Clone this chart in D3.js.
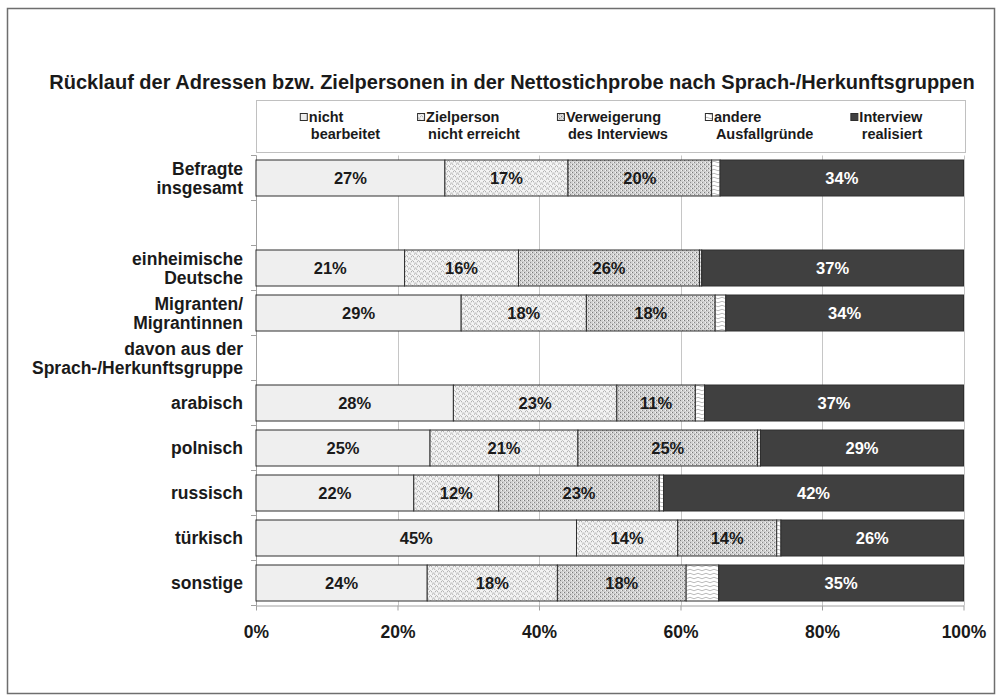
<!DOCTYPE html>
<html>
<head>
<meta charset="utf-8">
<script src="https://cdn.jsdelivr.net/npm/d3@7"></script>
<style>
  body { margin: 0; background: #fff; }
  text { font-family: "Liberation Sans", Arial, sans-serif; font-weight: bold; fill: #1a1a1a; }
</style>
</head>
<body>
<svg id="chart" width="1002" height="700"></svg>
<script>
'use strict';

// Row labels (empty row = spacer in the original chart)
var categories = [
  ['Befragte', 'insgesamt'],
  [],
  ['einheimische', 'Deutsche'],
  ['Migranten/', 'Migrantinnen'],
  ['davon aus der', 'Sprach-/Herkunftsgruppe'],
  ['arabisch'],
  ['polnisch'],
  ['russisch'],
  ['türkisch'],
  ['sonstige']
];

// Shares in percent
var nichtBearbeitet = [26.7, null, 21.0, 29.0, null, 27.9, 24.6, 22.3, 45.3, 24.2];
var nichtErreicht   = [17.4, null, 16.1, 17.7, null, 23.1, 20.9, 12.0, 14.3, 18.4];
var verweigerung    = [20.3, null, 25.6, 18.2, null, 11.1, 25.4, 22.7, 14.0, 18.2];
var andereGruende   = [ 1.2, null,  0.3,  1.5, null,  1.3,  0.4,  0.6,  0.6,  4.6];
var realisiert      = [34.4, null, 37.0, 33.6, null, 36.6, 28.7, 42.4, 25.8, 34.6];

var seriesKeys = ['nb', 'ne', 'vw', 'an', 're'];
var seriesNames = [
  ['nicht', 'bearbeitet'],
  ['Zielperson', 'nicht erreicht'],
  ['Verweigerung', 'des Interviews'],
  ['andere', 'Ausfallgründe'],
  ['Interview', 'realisiert']
];
var xTicks = [0, 20, 40, 60, 80, 100];

var svg = d3.select('#chart');
var defs = svg.append('defs');

// --- fill patterns (mimic the Excel hatches) ---
var p;
p = defs.append('pattern').attr('id', 'pat-ne').attr('patternUnits', 'userSpaceOnUse')
  .attr('width', 6).attr('height', 5);
p.append('rect').attr('width', 6).attr('height', 5).attr('fill', '#f4f4f4');
p.append('path').attr('d', 'M0,5 Q1.5,1 3,5 M3,2.5 Q4.5,-1.5 6,2.5 M-3,2.5 Q-1.5,-1.5 0,2.5')
  .attr('fill', 'none').attr('stroke', '#a4a4a4').attr('stroke-width', 0.8);

p = defs.append('pattern').attr('id', 'pat-vw').attr('patternUnits', 'userSpaceOnUse')
  .attr('width', 4).attr('height', 4);
p.append('rect').attr('width', 4).attr('height', 4).attr('fill', '#d0d0d0');
p.append('rect').attr('x', 0).attr('y', 0).attr('width', 1).attr('height', 1).attr('fill', '#7a7a7a');
p.append('rect').attr('x', 2).attr('y', 2).attr('width', 1).attr('height', 1).attr('fill', '#8a8a8a');
p.append('rect').attr('x', 3).attr('y', 0).attr('width', 1).attr('height', 1).attr('fill', '#f4f4f4');
p.append('rect').attr('x', 1).attr('y', 2).attr('width', 1).attr('height', 1).attr('fill', '#f4f4f4');

p = defs.append('pattern').attr('id', 'pat-an').attr('patternUnits', 'userSpaceOnUse')
  .attr('width', 8).attr('height', 4);
p.append('rect').attr('width', 8).attr('height', 4).attr('fill', '#fff');
p.append('path').attr('d', 'M0,2 Q2,0.5 4,2 T8,2')
  .attr('fill', 'none').attr('stroke', '#a8a8a8').attr('stroke-width', 0.8);

var fills = {nb: '#efefef', ne: 'url(#pat-ne)', vw: 'url(#pat-vw)', an: 'url(#pat-an)', re: '#404040'};
var labelColor = {nb: '#1a1a1a', ne: '#1a1a1a', vw: '#1a1a1a', an: '#1a1a1a', re: '#ffffff'};

// outer frame
svg.append('rect').attr('x', 7.5).attr('y', 8.5).attr('width', 987).attr('height', 685)
  .attr('fill', 'none').attr('stroke', '#6e6e6e').attr('stroke-width', 1.5);

// title
svg.append('text').attr('x', 512).attr('y', 89).attr('text-anchor', 'middle')
  .attr('font-size', '20px')
  .text('Rücklauf der Adressen bzw. Zielpersonen in der Nettostichprobe nach Sprach-/Herkunftsgruppen');

// scales
var x = d3.scaleLinear().domain([0, 100]).range([256, 963.5]);
var y = d3.scaleBand().domain(d3.range(categories.length)).range([155.5, 605.5])
  .paddingInner(0.2).paddingOuter(0.1);

// gridlines
svg.append('g').selectAll('line').data(xTicks.slice(1)).join('line')
  .attr('x1', function(d){ return Math.round(x(d)) + 0.5; })
  .attr('x2', function(d){ return Math.round(x(d)) + 0.5; })
  .attr('y1', 155.5).attr('y2', 605.5)
  .attr('stroke', '#c6c6c6');

// y axis line + ticks on band boundaries
var yAxis = svg.append('g');
yAxis.append('line').attr('x1', 256.5).attr('x2', 256.5).attr('y1', 155.5).attr('y2', 605.5).attr('stroke', '#a0a0a0');
yAxis.selectAll('line.tk').data(d3.range(categories.length + 1)).join('line').attr('class', 'tk')
  .attr('x1', 251).attr('x2', 256.5)
  .attr('y1', function(i){ return 155.5 + i * y.step(); })
  .attr('y2', function(i){ return 155.5 + i * y.step(); })
  .attr('stroke', '#a0a0a0');

// x axis
var xAxis = svg.append('g').attr('transform', 'translate(0,605.5)')
  .call(d3.axisBottom(x).tickValues(xTicks).tickSize(5).tickSizeOuter(0)
    .tickFormat(function(d){ return d + '%'; }));
xAxis.select('.domain').attr('stroke', '#a0a0a0');
xAxis.selectAll('.tick line').attr('stroke', '#a0a0a0');
xAxis.selectAll('.tick text').attr('y', 20).attr('font-size', '17.5px')
  .attr('font-family', '"Liberation Sans", Arial, sans-serif').attr('font-weight', 'bold').attr('fill', '#1a1a1a');

// stacked bars
var rows = categories.map(function(c, i){
  return {i: i, nb: nichtBearbeitet[i], ne: nichtErreicht[i], vw: verweigerung[i], an: andereGruende[i], re: realisiert[i]};
}).filter(function(r){ return r.nb !== null; });

var stacked = d3.stack().keys(seriesKeys)(rows);

var layers = svg.append('g').selectAll('g').data(stacked).join('g')
  .attr('fill', function(s){ return fills[s.key]; });

layers.selectAll('rect').data(function(s){ return s; }).join('rect')
  .attr('x', function(d){ return x(d[0]); })
  .attr('width', function(d){ return x(d[1]) - x(d[0]); })
  .attr('y', function(d){ return y(d.data.i); })
  .attr('height', y.bandwidth())
  .attr('stroke', '#2e2e2e').attr('stroke-width', 1);

// value labels
stacked.forEach(function(s){
  svg.append('g').selectAll('text').data(s.filter(function(d){ return d[1] - d[0] >= 6; })).join('text')
    .attr('x', function(d){ return (x(d[0]) + x(d[1])) / 2; })
    .attr('y', function(d){ return y(d.data.i) + y.bandwidth() / 2; })
    .attr('dy', '0.36em').attr('text-anchor', 'middle').attr('font-size', '16.5px')
    .style('fill', labelColor[s.key])
    .text(function(d){ return Math.round(d[1] - d[0]) + '%'; });
});

// category labels
categories.forEach(function(lines, i){
  var cy = y(i) + y.bandwidth() / 2;
  var t = svg.append('text').attr('text-anchor', 'end').attr('font-size', '17.5px');
  lines.forEach(function(l, k){
    t.append('tspan').attr('x', 243)
      .attr('y', cy + (k - (lines.length - 1) / 2) * 18.5)
      .attr('dy', '0.36em').text(l);
  });
});

// legend
svg.append('rect').attr('x', 256.5).attr('y', 100.5).attr('width', 709).attr('height', 52)
  .attr('fill', '#fff').attr('stroke', '#c0c0c0');
var legend = svg.append('g');
var cursor = 0;
seriesNames.forEach(function(lines, i){
  var g = legend.append('g').attr('transform', 'translate(' + cursor + ',0)');
  g.append('rect').attr('x', 0.5).attr('y', 113.5).attr('width', 7).attr('height', 7)
    .attr('fill', fills[seriesKeys[i]]).attr('stroke', '#2e2e2e');
  var t1 = g.append('text').attr('x', 9).attr('y', 122).attr('font-size', '14.5px').text(lines[0]);
  var t2 = g.append('text').attr('y', 139).attr('font-size', '14.5px').text(lines[1]);
  var w1 = t1.node().getComputedTextLength();
  var w2 = t2.node().getComputedTextLength();
  t2.attr('x', 9 + Math.max(2, w1 - w2));
  var w = 9 + Math.max(w1, w2 + 2);
  cursor += w + 37;
});
var legendW = cursor - 37;
legend.attr('transform', 'translate(' + (611 - legendW / 2) + ',0)');
</script>
</body>
</html>
